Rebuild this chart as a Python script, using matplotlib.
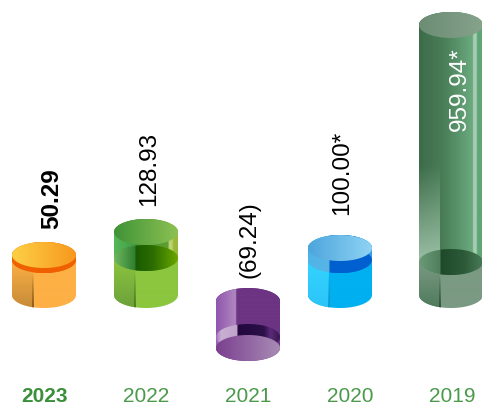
"""Five-year pictogram: glass cylinders, one per year, with rotated value labels."""
import matplotlib

matplotlib.use("Agg")
import matplotlib.pyplot as plt
import numpy as np
from matplotlib.colors import LinearSegmentedColormap
from matplotlib.path import Path
from matplotlib.patches import PathPatch

years = ["2023", "2022", "2021", "2020", "2019"]
values = [50.29, 128.93, -69.24, 100.00, 959.94]
value_labels = ["50.29", "128.93", "(69.24)", "100.00*", "959.94*"]

# the cylinders are not drawn to a linear scale, so the y axis is a piecewise one
scale_values = [-300, -69.24, 0, 50.29, 100.00, 128.93, 959.94, 1500]
scale_heights = [-150, -53, 0, 40, 47, 63, 270, 320]

W, H = 482, 407
RX, RY = 32, 13
PANEL = 21  # width of the lit strip on the left of each cylinder
BASE_Y = 295

bar_nudge = [0, 0, 0, -10, -1]
label_xy = [(52, 199), (149, 169), (249, 240), (342, 173), (460, 89)]
label_colors = ["black", "black", "black", "black", "white"]
band_y = [260, 258, 337, 260, 262]

STYLES = [
    dict(body=["#FDB045", "#FDB045"],
         panel=["#FDB045", "#C68B38"],
         divider="#8A5A1C",
         glass=[(0, "#F26A00"), (0.33, "#F2A060"), (0.34, "#F06000"),
                (0.8, "#F06000"), (0.85, "#F79A3A"), (1, "#F07A10")],
         glass_panel=None,
         inner=[(0, "#F06000"), (1, "#F06000")],
         cap=[(0, "#FDD045"), (1, "#F8981E")]),
    dict(body=["#8CC63F", "#8CC63F"],
         panel=["#8CC63F", "#6CA03A"],
         divider="#4F7A20",
         glass=[(0, "#58B858"), (0.33, "#3F9A45"), (0.34, "#3C8E30"),
                (0.85, "#5FA030"), (0.86, "#C4D880"), (0.92, "#B4CC60"),
                (0.93, "#9AB83A"), (1, "#9AB83A")],
         glass_panel=None,
         inner=[(0, "#70B860"), (0.33, "#2F7F30"), (0.34, "#1A5A00"),
                (0.6, "#2A6C00"), (1, "#6AA800")],
         cap=[(0, "#3F9339"), (1, "#8CC152")]),
    dict(body=["#6C3483", "#6C3483"],
         panel=["#B088C0", "#9055AC"],
         divider=None,
         glass=[(0, "#9055AC"), (0.31, "#B088C0"), (0.32, "#6C3483"),
                (1, "#6C3483")],
         glass_panel=None,
         inner=[(0, "#A86CC4"), (0.08, "#C8B0D2"), (0.33, "#C0A4CC"),
                (0.34, "#22083F"), (0.75, "#2C1048"), (0.85, "#5A2A78"),
                (1, "#3A1850")],
         cap=[(0, "#7B3F8F"), (1, "#A88BB5")]),
    dict(body=["#00B0F0", "#00B0F0"],
         panel=["#34D4FF", "#2CC4F8"],
         divider="#1098D0",
         glass=[(0, "#40B0E8"), (0.1, "#6CC0EC"), (0.33, "#58B4E4"),
                (0.34, "#0060D0"), (0.8, "#0060D0"), (0.85, "#2A90E8"),
                (1, "#3AA0E4")],
         glass_panel=None,
         inner=[(0, "#50B4E8"), (0.33, "#58B4E4"), (0.34, "#0060D0"),
                (1, "#0060D0")],
         cap=[(0, "#4CA5DC"), (1, "#8FD3F4")]),
    dict(body=["#7B9A83", "#7B9A83"],
         panel=["#7B9A83", "#4F7A5C"],
         divider="#34503C",
         glass=[(0, "#3D6B49"), (0.4, "#4A7F58"), (0.84, "#6BAA7F"),
                (0.85, "#A8CCB4"), (0.9, "#A8CCB4"), (0.91, "#5FA577"),
                (1, "#5FA577")],
         glass_panel=["#A8CBB2", "#A8CBB200"],
         inner=[(0, "#6C9A78"), (0.33, "#4F7F5C"), (0.34, "#1F4A2A"),
                (0.7, "#2C5A38"), (1, "#4A7A58")],
         cap=[(0, "#6C8C74"), (1, "#86A38C")]),
]


def forward(v):
    return np.interp(v, scale_values, scale_heights)


def inverse(h):
    return np.interp(h, scale_heights, scale_values)


def _ellipse(cx, cy):
    t = np.linspace(0, 2 * np.pi, 120)
    return Path(np.column_stack([cx + RX * np.cos(t), cy + RY * np.sin(t)]))


def _column(cx, top, bot):
    t = np.linspace(np.pi, 2 * np.pi, 60)
    upper = np.column_stack([cx + RX * np.cos(t), top + RY * np.sin(t)])
    t = np.linspace(0, np.pi, 60)
    lower = np.column_stack([cx + RX * np.cos(t), bot + RY * np.sin(t)])
    return Path(np.vstack([upper, lower, upper[:1]]))


def _fill(ax, clip, extent, stops, vertical=False):
    # gradient image cut to the outline of a shape
    cmap = LinearSegmentedColormap.from_list("g", stops, N=512)
    grad = np.linspace(0, 1, 512)
    grad = grad[:, None] if vertical else grad[None, :]
    patch = PathPatch(clip, facecolor="none", edgecolor="none")
    ax.add_patch(patch)
    im = ax.imshow(grad, cmap=cmap, extent=extent, aspect="auto",
                   origin="upper", interpolation="bilinear", vmin=0, vmax=1)
    im.set_clip_path(patch)


def cylinder(ax, cx, top, bot, band, st, hanging=False):
    x0, x1 = cx - RX, cx + RX
    whole = _column(cx, top, bot)
    full_ext = (x0, x1, bot + RY, top - RY)
    _fill(ax, whole, full_ext, st["body"])

    if hanging:
        # the lit end sits at the bottom and the top stays body coloured
        _fill(ax, whole, (x0, x0 + PANEL, bot + RY, top), st["panel"], vertical=True)
        _fill(ax, _column(cx, top, band), full_ext, st["glass"])
        _fill(ax, _ellipse(cx, band), full_ext, st["inner"])
        _fill(ax, _ellipse(cx, bot), full_ext, st["cap"])
        return

    _fill(ax, whole, (x0, x0 + PANEL, bot + RY, band), st["panel"], vertical=True)
    _fill(ax, whole, (x0 + PANEL - 1, x0 + PANEL + 1, bot + RY, band + RY),
          [st["divider"] + "00", st["divider"]], vertical=True)
    # glass section above the liquid line
    _fill(ax, _column(cx, top, band), full_ext, st["glass"])
    if st["glass_panel"]:
        _fill(ax, _column(cx, top, band), (x0, x0 + PANEL, band + RY, 165),
              [st["glass_panel"][1], st["glass_panel"][0]], vertical=True)
    _fill(ax, _ellipse(cx, band), full_ext, st["inner"])
    _fill(ax, _ellipse(cx, top), full_ext, st["cap"])


def render():
    fig = plt.figure(figsize=(W / 100, H / 100), dpi=100)

    ax = fig.add_axes([0, 0, 1, 1])
    ax.set_yscale("function", functions=(forward, inverse))
    ax.set_xlim(-44 / 102, (W - 44) / 102)
    ax.set_ylim(inverse(BASE_Y - H), inverse(BASE_Y))
    ax.axis("off")

    # pixel-space overlay for the gradient shapes
    px = fig.add_axes([0, 0, 1, 1])
    px.axis("off")

    for i, v in enumerate(values):
        cx = ax.transData.transform((i, 0))[0] + bar_nudge[i]
        end = H - ax.transData.transform((i, v))[1]
        if v >= 0:
            cylinder(px, cx, end, BASE_Y, band_y[i], STYLES[i])
        else:
            cylinder(px, cx, BASE_Y + 6, end, band_y[i], STYLES[i], hanging=True)

        px.text(label_xy[i][0], label_xy[i][1], value_labels[i], rotation=90,
                ha="center", va="center", fontsize=17.5, color=label_colors[i],
                family="Liberation Sans",
                fontweight="bold" if i == 0 else "normal")
        # baseline kept just clear of the bottom edge
        px.text(ax.transData.transform((i, 0))[0], 402.5, years[i],
                ha="center", va="baseline", fontsize=15,
                color="#3A8F3A" if i == 0 else "#4A9A4A",
                family="Liberation Sans",
                fontweight="bold" if i == 0 else "normal")

    px.set_xlim(0, W)
    px.set_ylim(H, 0)
    fig.savefig("out.png", dpi=100, facecolor="white")
    plt.close(fig)


if __name__ == "__main__":
    render()
